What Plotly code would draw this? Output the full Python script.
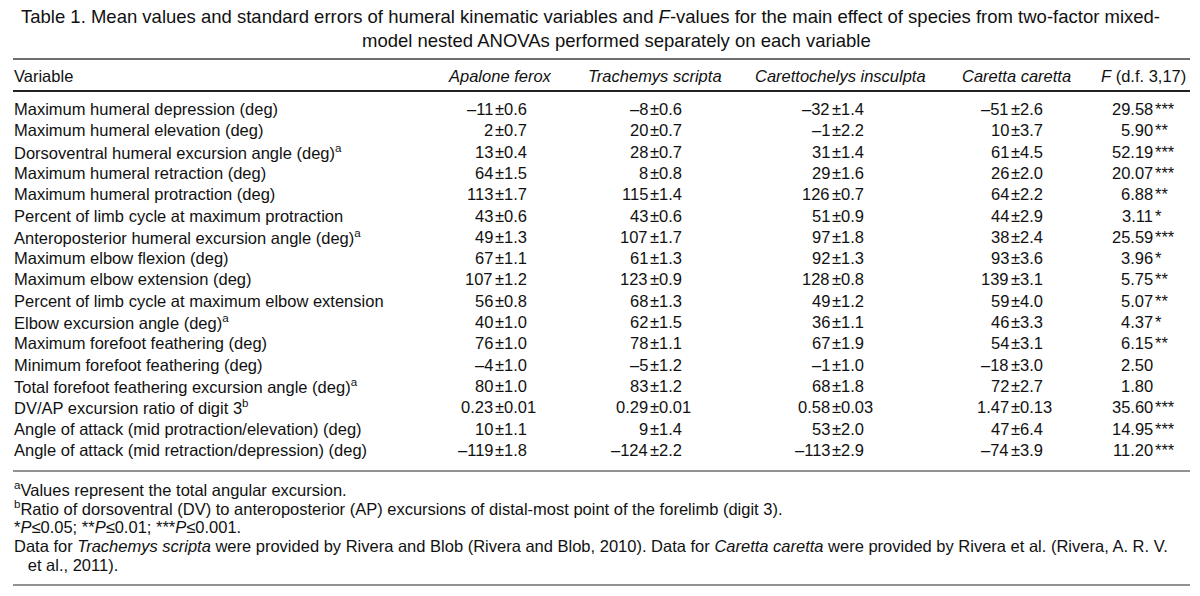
import plotly.graph_objects as go

# ---------------- data ----------------
title_line1 = "Table 1. Mean values and standard errors of humeral kinematic variables and <i>F</i>-values for the main effect of species from two-factor mixed-"
title_line2 = "model nested ANOVAs performed separately on each variable"

col_headers = ["Variable", "<i>Apalone ferox</i>", "<i>Trachemys scripta</i>",
               "<i>Carettochelys insculpta</i>", "<i>Caretta caretta</i>", "<i>F</i> (d.f. 3,17)"]

variables = [
    "Maximum humeral depression (deg)",
    "Maximum humeral elevation (deg)",
    "Dorsoventral humeral excursion angle (deg)",
    "Maximum humeral retraction (deg)",
    "Maximum humeral protraction (deg)",
    "Percent of limb cycle at maximum protraction",
    "Anteroposterior humeral excursion angle (deg)",
    "Maximum elbow flexion (deg)",
    "Maximum elbow extension (deg)",
    "Percent of limb cycle at maximum elbow extension",
    "Elbow excursion angle (deg)",
    "Maximum forefoot feathering (deg)",
    "Minimum forefoot feathering (deg)",
    "Total forefoot feathering excursion angle (deg)",
    "DV/AP excursion ratio of digit 3",
    "Angle of attack (mid protraction/elevation) (deg)",
    "Angle of attack (mid retraction/depression) (deg)",
]
variable_notes = ["", "", "a", "", "", "", "a", "", "", "", "a", "", "", "a", "b", "", ""]

apalone_ferox = ["–11±0.6", "2±0.7", "13±0.4", "64±1.5", "113±1.7", "43±0.6", "49±1.3", "67±1.1",
                 "107±1.2", "56±0.8", "40±1.0", "76±1.0", "–4±1.0", "80±1.0", "0.23±0.01", "10±1.1", "–119±1.8"]
trachemys_scripta = ["–8±0.6", "20±0.7", "28±0.7", "8±0.8", "115±1.4", "43±0.6", "107±1.7", "61±1.3",
                     "123±0.9", "68±1.3", "62±1.5", "78±1.1", "–5±1.2", "83±1.2", "0.29±0.01", "9±1.4", "–124±2.2"]
carettochelys_insculpta = ["–32±1.4", "–1±2.2", "31±1.4", "29±1.6", "126±0.7", "51±0.9", "97±1.8", "92±1.3",
                           "128±0.8", "49±1.2", "36±1.1", "67±1.9", "–1±1.0", "68±1.8", "0.58±0.03", "53±2.0", "–113±2.9"]
caretta_caretta = ["–51±2.6", "10±3.7", "61±4.5", "26±2.0", "64±2.2", "44±2.9", "38±2.4", "93±3.6",
                   "139±3.1", "59±4.0", "46±3.3", "54±3.1", "–18±3.0", "72±2.7", "1.47±0.13", "47±6.4", "–74±3.9"]
f_values = ["29.58", "5.90", "52.19", "20.07", "6.88", "3.11", "25.59", "3.96", "5.75", "5.07",
            "4.37", "6.15", "2.50", "1.80", "35.60", "14.95", "11.20"]
f_significance = ["***", "**", "***", "***", "**", "*", "***", "*", "**", "**",
                  "*", "**", "", "", "***", "***", "***"]

footnotes = [
    "<sup>a</sup>Values represent the total angular excursion.",
    "<sup>b</sup>Ratio of dorsoventral (DV) to anteroposterior (AP) excursions of distal-most point of the forelimb (digit 3).",
    "*<i>P</i>≤0.05; **<i>P</i>≤0.01; ***<i>P</i>≤0.001.",
    "Data for <i>Trachemys scripta</i> were provided by Rivera and Blob (Rivera and Blob, 2010). Data for <i>Caretta caretta</i> were provided by Rivera et al. (Rivera, A. R. V.",
    "   et al., 2011).",
]

# ---------------- layout ----------------
W, H = 1200, 596
FONT = "Liberation Sans, Arial, Helvetica, sans-serif"
INK = "#111111"
BODY = 16.5
TITLE = 18.5

fig = go.Figure()
fig.update_layout(
    width=W, height=H, margin=dict(l=0, r=0, t=0, b=0),
    paper_bgcolor="white", plot_bgcolor="white", showlegend=False,
    xaxis=dict(range=[0, W], visible=False, fixedrange=True),
    yaxis=dict(range=[H, 0], visible=False, fixedrange=True),
    font=dict(family=FONT, color=INK, size=BODY),
)

ann = []


def txt(x, y, s, anchor="left", size=BODY):
    ann.append(dict(x=x, y=y, xref="x", yref="y", text=s, showarrow=False,
                    xanchor=anchor, yanchor="middle", borderpad=0,
                    font=dict(family=FONT, size=size, color=INK)))


# title
txt(590, 16, title_line1, "center", TITLE)
txt(616, 40, title_line2, "center", TITLE)

# rules
x_left, x_right = 13, 1190
rules = [(59, 2.2, "#6e6e6e"), (91, 2.2, "#222222"), (471, 1.6, "#6e6e6e"), (585, 1.6, "#6e6e6e")]
shapes = []
for y, w, c in rules:
    shapes.append(dict(type="line", xref="x", yref="y", x0=x_left, x1=x_right, y0=y, y1=y,
                       line=dict(color=c, width=w)))

# header
header_y = 76
header_x = [(13, "left"), (500, "center"), (655, "center"), (840, "center"), (1016, "center"), (1187, "right")]
for (hx, anc), h in zip(header_x, col_headers):
    txt(hx, header_y, h, anc)

# body rows
row0, dy = 109, 21.3
pm_x = [493.5, 648.5, 830.5, 1009.5]
series = [apalone_ferox, trachemys_scripta, carettochelys_insculpta, caretta_caretta]
f_x = 1154
for i, name in enumerate(variables):
    y = row0 + i * dy
    label = name + (f"<sup>{variable_notes[i]}</sup>" if variable_notes[i] else "")
    txt(13, y, label, "left")
    for px, col in zip(pm_x, series):
        mean, se = col[i].split("±")
        txt(px, y, mean, "right")
        txt(px, y, "±" + se, "left")
    txt(f_x, y, f_values[i], "right")
    if f_significance[i]:
        txt(f_x, y, f_significance[i], "left")

# footnotes
foot_y = [489, 508, 527, 546, 565]
for fy, s in zip(foot_y, footnotes):
    txt(13, fy, s, "left")

fig.update_layout(annotations=ann, shapes=shapes)
fig.write_html(
    "out.html",
    config={"displayModeBar": False, "staticPlot": True},
    post_script="document.documentElement.style.margin='0';document.body.style.margin='0';"
                "document.body.style.overflow='hidden';",
)
